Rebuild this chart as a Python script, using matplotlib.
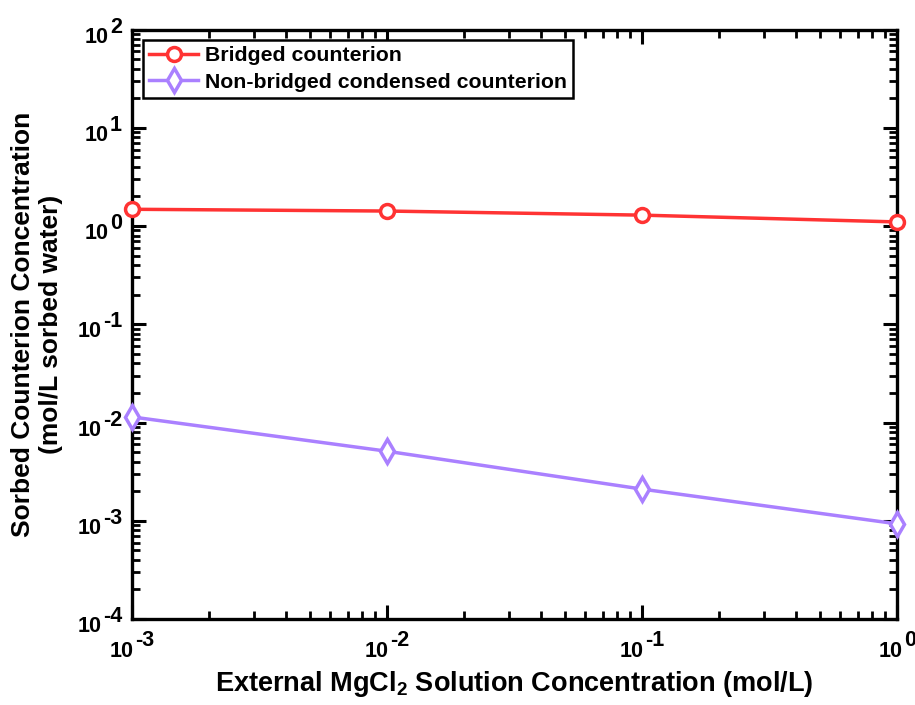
import matplotlib
matplotlib.use('Agg')
import numpy as np
import matplotlib.pyplot as plt
from matplotlib.ticker import FixedLocator, NullFormatter

plt.rcParams['font.family'] = 'Liberation Sans'
plt.rcParams['font.weight'] = 'bold'
plt.rcParams['mathtext.fontset'] = 'custom'
plt.rcParams['mathtext.rm'] = 'Liberation Sans:bold'
plt.rcParams['mathtext.bf'] = 'Liberation Sans:bold'
plt.rcParams['mathtext.default'] = 'bf'

conc = [1e-3, 1e-2, 1e-1, 1e0]
bridged = [1.48, 1.42, 1.29, 1.10]
non_bridged = [0.0114, 0.0051, 0.0021, 0.00093]

x_exps = [-3, -2, -1, 0]
y_exps = [-4, -3, -2, -1, 0, 1, 2]

fig = plt.figure(figsize=(9.15, 7.05), dpi=100)
ax = fig.add_axes([132 / 915, 1 - 619 / 705, 765 / 915, 589.5 / 705])

ax.plot(conc, bridged, color='#ff3333', lw=2.5, marker='o', ms=10,
        mfc='white', mec='#ff3333', mew=2.5, label='Bridged counterion',
        clip_on=False, zorder=3)
ax.plot(conc, non_bridged, color='#aa80ff', lw=2.5, marker='d', ms=12,
        mfc='white', mec='#aa80ff', mew=2.5, label='Non-bridged condensed counterion',
        clip_on=False, zorder=3)

ax.set_xscale('log')
ax.set_yscale('log')
ax.set_xlim(1e-3, 1)
ax.set_ylim(1e-4, 1e2)

ax.xaxis.set_major_locator(FixedLocator([10.0 ** e for e in x_exps]))
ax.yaxis.set_major_locator(FixedLocator([10.0 ** e for e in y_exps]))
ax.xaxis.set_minor_locator(FixedLocator([m * 10.0 ** e for e in x_exps[:-1] for m in range(2, 10)]))
ax.yaxis.set_minor_locator(FixedLocator([m * 10.0 ** e for e in y_exps[:-1] for m in range(2, 10)]))
for axis in (ax.xaxis, ax.yaxis):
    axis.set_major_formatter(NullFormatter())
    axis.set_minor_formatter(NullFormatter())

for s in ax.spines.values():
    s.set_linewidth(2.4)
ax.tick_params(which='major', direction='in', length=10, width=2.2, top=True, right=True)
ax.tick_params(which='minor', direction='in', length=6, width=2.0, top=True, right=True)

# MATLAB-style 10^n labels with a full-size exponent
fs = 15.5
w10 = 2 * 0.556 * fs


def exp_width(e):
    w = 0.556 * fs * len(str(abs(e)))
    if e < 0:
        w += 0.333 * fs
    return w


for e in x_exps:
    ew = exp_width(e)
    left = -(w10 + 1 + ew) / 2
    ax.annotate('10', xy=(10.0 ** e, 0), xycoords=('data', 'axes fraction'),
                xytext=(left, -27.5), textcoords='offset points', ha='left', va='baseline',
                fontsize=fs, fontweight='bold', annotation_clip=False)
    ax.annotate(str(e), xy=(10.0 ** e, 0), xycoords=('data', 'axes fraction'),
                xytext=(left + w10 + 1, -19.5), textcoords='offset points', ha='left', va='baseline',
                fontsize=fs, fontweight='bold', annotation_clip=False)

for e in y_exps:
    ew = exp_width(e)
    ax.annotate(str(e), xy=(0, 10.0 ** e), xycoords=('axes fraction', 'data'),
                xytext=(-7.2, -2.3), textcoords='offset points', ha='right', va='baseline',
                fontsize=fs, fontweight='bold', annotation_clip=False)
    ax.annotate('10', xy=(0, 10.0 ** e), xycoords=('axes fraction', 'data'),
                xytext=(-7.2 - ew - 1, -9.5), textcoords='offset points', ha='right', va='baseline',
                fontsize=fs, fontweight='bold', annotation_clip=False)

ax.set_xlabel('External MgCl$_2$ Solution Concentration (mol/L)', fontsize=19.5, fontweight='bold')
ax.xaxis.set_label_coords(0.5, -0.085)
ax.set_ylabel('Sorbed Counterion Concentration\n(mol/L sorbed water)', fontsize=19, fontweight='bold')
ax.yaxis.set_label_coords(-0.09, 0.5)

leg = ax.legend(loc='upper left', bbox_to_anchor=(11 / 765, 579 / 589.5), borderaxespad=0,
                fontsize=15.3, frameon=True, fancybox=False, framealpha=1,
                handlelength=2.3, borderpad=0.3, labelspacing=0.35, handletextpad=0.3)
leg.get_frame().set_edgecolor('black')
leg.get_frame().set_linewidth(1.8)
for t in leg.get_texts():
    t.set_fontweight('bold')

fig.savefig('out.png', dpi=100)
